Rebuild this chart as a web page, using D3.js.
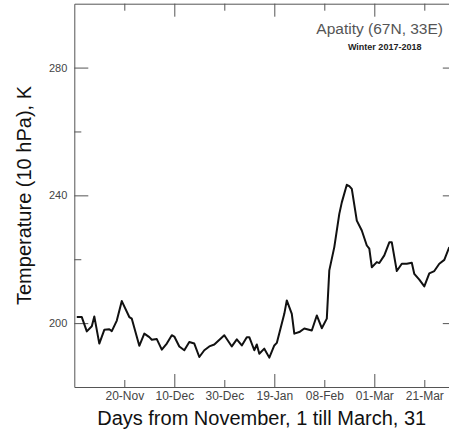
<!DOCTYPE html>
<html>
<head>
<meta charset="utf-8">
<script src="https://cdn.jsdelivr.net/npm/d3@7"></script>
<style>
  body { margin: 0; background: #fff; }
  svg { display: block; font-family: "Liberation Sans", Arial, sans-serif; }
</style>
</head>
<body>
<svg id="chart"></svg>
<script>
// Days counted from November 1 (day 1)
const days = [1, 3, 5, 7, 8, 10, 12, 14, 15, 17, 19, 22, 23, 26, 28, 30, 31, 33, 35, 37,
  39, 40, 42, 44, 46, 48, 50, 52, 54, 56, 60, 63, 65, 67, 69, 70, 72, 73, 74, 76,
  78, 80, 81, 84, 85, 87, 88, 90, 92, 95, 97, 99, 101, 102, 104, 106, 107, 109, 110, 111,
  113, 115, 117, 118, 119, 121, 122, 124, 126, 127, 129, 131, 133, 135, 136, 138, 140, 142, 144, 146,
  148, 150];

// Temperature at 10 hPa, K
const temps = [201.9, 201.9, 197.4, 199.0, 202.1, 193.6, 197.9, 198.1, 197.5, 200.8,
  206.9, 201.9, 201.4, 192.9, 196.7, 195.6, 194.8, 195.0, 191.7, 193.6,
  196.2, 195.8, 192.7, 191.5, 194.1, 193.6, 189.4, 191.5, 192.7, 193.3,
  196.2, 192.7, 194.9, 193.0, 195.6, 195.6, 191.5, 193.3, 190.4, 192.0,
  189.2, 193.0, 193.8, 202.9, 207.1, 202.9, 196.7, 197.2, 198.3, 197.7,
  202.4, 198.4, 201.4, 216.5, 223.8, 234.2, 237.8, 243.3, 242.9, 242.0,
  232.1, 229.0, 224.3, 223.3, 217.5, 219.1, 218.8, 221.2, 225.3, 225.3,
  216.3, 218.6, 218.6, 218.9, 215.4, 213.6, 211.5, 215.6, 216.3, 218.6,
  219.8, 223.8];

const xMajor = [40, 80, 120];
const xMinor = [20, 60, 100, 140];
const xTickLabels = new Map([[20, "20-Nov"], [40, "10-Dec"], [60, "30-Dec"], [80, "19-Jan"],
  [100, "08-Feb"], [120, "01-Mar"], [140, "21-Mar"]]);
const yMajor = [200, 240, 280];
const yMinor = [220, 260];

const width = 449;
const height = 432;

// Plot box (right side runs just past the picture edge)
const plotLeft = 74.3, plotRight = 456.8, plotTop = 3.7, plotBottom = 387;

const x = d3.scaleLinear().domain([0, 153]).range([plotLeft, plotRight]);
const y = d3.scaleLinear().domain([180, 300]).range([plotBottom, plotTop]);

const svg = d3.select("#chart")
  .attr("width", width)
  .attr("height", height);

const axisColor = "#555";

function styleAxis(g) {
  g.select(".domain").attr("stroke", axisColor).attr("stroke-width", 1);
  g.selectAll(".tick line").attr("stroke", axisColor).attr("stroke-width", 1);
  g.selectAll(".tick text").attr("fill", "#444");
}

// Bottom axis, major and minor ticks
svg.append("g")
  .attr("transform", `translate(0,${plotBottom})`)
  .call(d3.axisBottom(x).tickValues(xMajor).tickSizeInner(-13).tickSizeOuter(0)
    .tickPadding(4).tickFormat(d => xTickLabels.get(d)))
  .call(g => g.selectAll("text").attr("font-size", 12).attr("font-family", null))
  .call(styleAxis);

svg.append("g")
  .attr("transform", `translate(0,${plotBottom})`)
  .call(d3.axisBottom(x).tickValues(xMinor).tickSizeInner(-7).tickSizeOuter(0)
    .tickPadding(4).tickFormat(d => xTickLabels.get(d)))
  .call(g => g.select(".domain").remove())
  .call(g => g.selectAll("text").attr("font-size", 12).attr("font-family", null))
  .call(styleAxis);

// Top frame
svg.append("g")
  .attr("transform", `translate(0,${plotTop})`)
  .call(d3.axisTop(x).tickValues(xMajor).tickSizeInner(-13).tickSizeOuter(0).tickFormat(""))
  .call(styleAxis);

svg.append("g")
  .attr("transform", `translate(0,${plotTop})`)
  .call(d3.axisTop(x).tickValues(xMinor).tickSizeInner(-7).tickSizeOuter(0).tickFormat(""))
  .call(g => g.select(".domain").remove())
  .call(styleAxis);

// Left axis
svg.append("g")
  .attr("transform", `translate(${plotLeft},0)`)
  .call(d3.axisLeft(y).tickValues(yMajor).tickSizeInner(-14).tickSizeOuter(0)
    .tickPadding(7).tickFormat(d3.format("d")))
  .call(g => g.selectAll("text").attr("font-size", 11).attr("font-family", null))
  .call(styleAxis);

svg.append("g")
  .attr("transform", `translate(${plotLeft},0)`)
  .call(d3.axisLeft(y).tickValues(yMinor).tickSizeInner(-7).tickSizeOuter(0).tickFormat(""))
  .call(g => g.select(".domain").remove())
  .call(styleAxis);

// Right frame
svg.append("g")
  .attr("transform", `translate(${plotRight},0)`)
  .call(d3.axisRight(y).tickValues(yMajor).tickSizeInner(-14).tickSizeOuter(0).tickFormat(""))
  .call(styleAxis);

svg.append("g")
  .attr("transform", `translate(${plotRight},0)`)
  .call(d3.axisRight(y).tickValues(yMinor).tickSizeInner(-7).tickSizeOuter(0).tickFormat(""))
  .call(g => g.select(".domain").remove())
  .call(styleAxis);

// Temperature line
const line = d3.line()
  .x((d, i) => x(days[i]))
  .y(d => y(d));

svg.append("path")
  .datum(temps)
  .attr("fill", "none")
  .attr("stroke", "#111")
  .attr("stroke-width", 2)
  .attr("stroke-linejoin", "round")
  .attr("d", line);

// Titles
svg.append("text")
  .attr("x", 443)
  .attr("y", 33.5)
  .attr("text-anchor", "end")
  .attr("font-size", 15.5)
  .attr("fill", "#555")
  .text("Apatity (67N, 33E)");

svg.append("text")
  .attr("x", 384.7)
  .attr("y", 49.5)
  .attr("text-anchor", "middle")
  .attr("font-size", 9)
  .attr("font-weight", "bold")
  .attr("fill", "#222")
  .text("Winter 2017-2018");

// Axis labels
svg.append("text")
  .attr("transform", "translate(30.5,195.5) rotate(-90)")
  .attr("text-anchor", "middle")
  .attr("font-size", 20)
  .attr("fill", "#111")
  .text("Temperature (10 hPa), K");

svg.append("text")
  .attr("x", 261.7)
  .attr("y", 425)
  .attr("text-anchor", "middle")
  .attr("font-size", 20)
  .attr("fill", "#111")
  .text("Days from November, 1 till March, 31");
</script>
</body>
</html>
